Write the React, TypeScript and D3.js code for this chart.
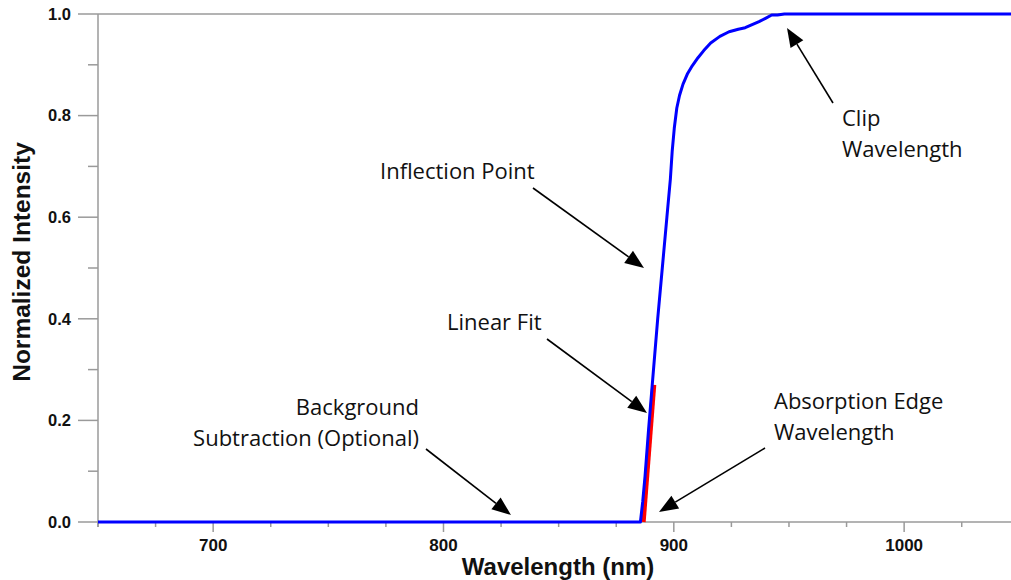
import React from "react";
import * as d3 from "d3";

// ---- data ----
const wavelengths = [650, 885.5, 886.5, 887.5, 889, 891, 893, 895, 897, 898.5, 899.3, 900.2, 901.3, 902.5, 904, 906, 908, 910.5, 913, 916, 920, 924, 928, 931, 934, 937, 940, 942.5, 945, 948, 1050];
const intensities = [0, 0, 0.04, 0.09, 0.18, 0.29, 0.4, 0.5, 0.6, 0.675, 0.73, 0.775, 0.815, 0.84, 0.862, 0.883, 0.898, 0.914, 0.928, 0.943, 0.956, 0.965, 0.97, 0.973, 0.979, 0.985, 0.992, 0.998, 0.998, 1, 1];
const fitWavelengths = [886.7, 891.3];
const fitIntensities = [0, 0.27];
const xMajorTicks = [700, 800, 900, 1000];
const xMinorTicks = [650, 675, 725, 750, 775, 825, 850, 875, 925, 950, 975, 1025, 1050];
const yMajorTicks = [0, 0.2, 0.4, 0.6, 0.8, 1.0];
const yMinorTicks = [0.1, 0.3, 0.5, 0.7, 0.9];

const W = 1011;
const H = 580;
const LEFT = 98;
const TOP = 14;
const BOTTOM = 522;

const AXIS = "#9a9a9a";
const ANN_FONT = "'Open Sans', 'Noto Sans', sans-serif";
const AX_FONT = "'Liberation Sans', Arial, sans-serif";

type Ann = { lines: string[]; x: number; y: number; anchor: string; from: [number, number]; to: [number, number] };
const annotations: Ann[] = [
  { lines: ["Inflection Point"], x: 380, y: 179, anchor: "start", from: [533, 188], to: [644, 268] },
  { lines: ["Clip", "Wavelength"], x: 842, y: 126, anchor: "start", from: [833, 103], to: [787, 28] },
  { lines: ["Linear Fit"], x: 447, y: 330, anchor: "start", from: [547, 339], to: [647, 413] },
  { lines: ["Background", "Subtraction (Optional)"], x: 419, y: 415, anchor: "end", from: [426, 449], to: [511, 515] },
  { lines: ["Absorption Edge", "Wavelength"], x: 774, y: 409, anchor: "start", from: [765, 448], to: [659, 512] },
];

function Arrow({ from, to }: { from: [number, number]; to: [number, number] }) {
  const [x1, y1] = from;
  const [x2, y2] = to;
  const ang = Math.atan2(y2 - y1, x2 - x1);
  const len = 19;
  const half = 7.5;
  const bx = x2 - len * Math.cos(ang);
  const by = y2 - len * Math.sin(ang);
  const px = -Math.sin(ang) * half;
  const py = Math.cos(ang) * half;
  return (
    <g>
      <line x1={x1} y1={y1} x2={bx} y2={by} stroke="#000" strokeWidth={1.6} />
      <polygon points={`${x2},${y2} ${bx + px},${by + py} ${bx - px},${by - py}`} fill="#000" />
    </g>
  );
}

export default function App() {
  const x = d3.scaleLinear().domain([650, 1050]).range([LEFT, 1019.3]);
  const y = d3.scaleLinear().domain([0, 1]).range([BOTTOM, TOP]);

  const line = d3
    .line<number>()
    .x((_, i) => x(wavelengths[i]))
    .y((d) => y(d));
  const fitLine = d3
    .line<number>()
    .x((_, i) => x(fitWavelengths[i]))
    .y((d) => y(d));

  return (
    <svg
      width={W}
      height={H}
      style={{ position: "absolute", left: 0, top: 0, background: "#fff", display: "block" }}
    >
      <rect x={0} y={0} width={W} height={H} fill="#fff" />
      {/* frame lines */}
      <line x1={LEFT} y1={y(1)} x2={W} y2={y(1)} stroke={AXIS} strokeWidth={1.5} />
      <line x1={LEFT} y1={y(0)} x2={W} y2={y(0)} stroke={AXIS} strokeWidth={1.5} />
      <line x1={LEFT} y1={y(1)} x2={LEFT} y2={y(0) + 5} stroke={AXIS} strokeWidth={1.5} />
      {/* y ticks */}
      {yMajorTicks.map((t) => (
        <g key={"ym" + t}>
          <line x1={LEFT - 20} x2={LEFT} y1={y(t)} y2={y(t)} stroke={AXIS} strokeWidth={1.5} />
          <text
            x={71}
            y={y(t)}
            dy="0.35em"
            textAnchor="end"
            fontFamily={AX_FONT}
            fontWeight="bold"
            fontSize={16.5}
            fill="#111"
          >
            {d3.format(".1f")(t)}
          </text>
        </g>
      ))}
      {yMinorTicks.map((t) => (
        <line key={"yn" + t} x1={LEFT - 10} x2={LEFT} y1={y(t)} y2={y(t)} stroke={AXIS} strokeWidth={1.5} />
      ))}
      {/* x ticks */}
      {xMajorTicks.map((t) => (
        <g key={"xm" + t}>
          <line x1={x(t)} x2={x(t)} y1={BOTTOM} y2={BOTTOM + 10} stroke={AXIS} strokeWidth={1.5} />
          <text
            x={x(t)}
            y={551}
            textAnchor="middle"
            fontFamily={AX_FONT}
            fontWeight="bold"
            fontSize={17}
            fill="#111"
          >
            {t}
          </text>
        </g>
      ))}
      {xMinorTicks.map((t) => (
        <line key={"xn" + t} x1={x(t)} x2={x(t)} y1={BOTTOM} y2={BOTTOM + 5} stroke={AXIS} strokeWidth={1.5} />
      ))}
      {/* axis titles */}
      <text
        x={558}
        y={575}
        textAnchor="middle"
        fontFamily={AX_FONT}
        fontWeight="bold"
        fontSize={24}
        fill="#111"
      >
        Wavelength (nm)
      </text>
      <text
        transform={`translate(30, 262) rotate(-90)`}
        textAnchor="middle"
        fontFamily={AX_FONT}
        fontWeight="bold"
        fontSize={24.5}
        fill="#111"
      >
        Normalized Intensity
      </text>
      {/* data */}
      <path d={fitLine(fitIntensities) ?? ""} fill="none" stroke="#ff0000" strokeWidth={5} />
      <path d={line(intensities) ?? ""} fill="none" stroke="#0000ff" strokeWidth={3} strokeLinejoin="round" />
      {/* annotations */}
      {annotations.map((a, i) => (
        <g key={"a" + i}>
          {a.lines.map((l, j) => (
            <text
              key={j}
              x={a.x}
              y={a.y + j * 31}
              textAnchor={a.anchor as any}
              fontFamily={ANN_FONT}
              fontSize={22}
              fill="#111"
            >
              {l}
            </text>
          ))}
          <Arrow from={a.from} to={a.to} />
        </g>
      ))}
    </svg>
  );
}
